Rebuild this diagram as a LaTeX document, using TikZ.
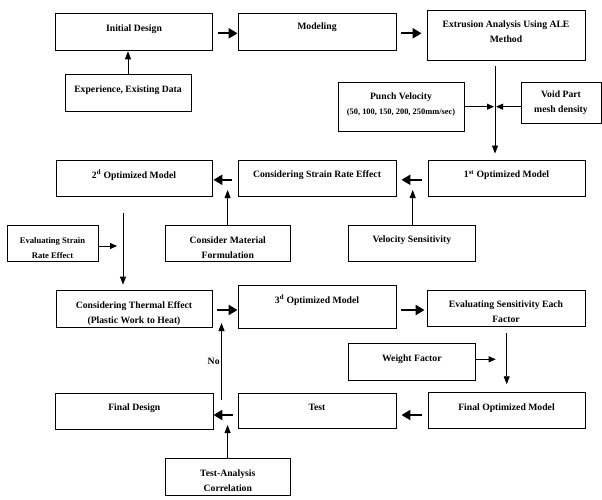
\documentclass[tikz,border=0pt]{standalone}
\usepackage{fontspec}
\setmainfont{Liberation Serif}
\usepackage{tikz}
\usetikzlibrary{arrows.meta}

\begin{document}
\begin{tikzpicture}[x=1pt,y=-1pt,
box/.style={draw,line width=0.9pt,align=center,inner sep=0pt,font=\fontsize{9.7}{15}\selectfont\bfseries},
oneline/.style={text height=7pt,text depth=8pt},
lowtwo/.style={text height=32pt,text depth=2.5pt},
hightwo/.style={text height=22pt,text depth=7.5pt},
fat/.style={line width=2.2pt,-{Triangle[length=9pt,width=10pt]}},
thin/.style={line width=0.8pt,-{Triangle[length=8pt,width=6pt]}},
side/.style={line width=0.8pt,-{Triangle[length=7pt,width=6pt]}}]
\useasboundingbox (0,0) rectangle (602,499);
\node[box,oneline,minimum width=157,minimum height=37] (init) at (134,32.3) {Initial Design};
\node[box,text height=7pt,text depth=12pt,minimum width=158,minimum height=37] (model) at (317,32.3) {Modeling};
\node[box,hightwo,minimum width=158,minimum height=50] (extr) at (506,35) {Extrusion Analysis Using ALE\\Method};
\node[box,oneline,minimum width=126,minimum height=37] (exper) at (128,93.3) {Experience, Existing Data};
\node[box,hightwo,minimum width=126,minimum height=49] (punch) at (401,107.3) {Punch Velocity\\{\fontsize{8.4}{10}\selectfont (50, 100, 150, 200, 250mm/sec)}};
\node[box,minimum width=80,minimum height=40.6] (void) at (561,103) {Void Part\\mesh density};
\node[box,oneline,minimum width=157,minimum height=36.7] (opt1) at (506.5,178.3) {1\textsuperscript{st} Optimized Model};
\node[box,oneline,minimum width=158,minimum height=36.7] (csr) at (317,178.3) {Considering Strain Rate Effect};
\node[box,oneline,minimum width=156,minimum height=36] (opt2) at (134,178.7) {2\textsuperscript{d} Optimized Model};
\node[box,lowtwo,font=\fontsize{8.6}{15}\selectfont\bfseries,minimum width=91,minimum height=36.7] (evstrain) at (52.5,243.3) {Evaluating Strain\\Rate Effect};
\node[box,lowtwo,minimum width=125.6,minimum height=36.7] (matl) at (227.8,243.3) {Consider Material\\Formulation};
\node[box,oneline,minimum width=126.4,minimum height=36.7] (velsens) at (411.8,243.3) {Velocity Sensitivity};
\node[box,lowtwo,minimum width=156,minimum height=37.3] (thermal) at (134,308.7) {Considering Thermal Effect\\(Plastic Work to Heat)};
\node[box,text height=7pt,text depth=14pt,minimum width=158,minimum height=42.3] (opt3) at (317,307) {3\textsuperscript{d} Optimized Model};
\node[box,lowtwo,minimum width=158,minimum height=36] (evsens) at (506,308) {Evaluating Sensitivity Each\\Factor};
\node[box,oneline,minimum width=126.4,minimum height=36.7] (weight) at (411.8,361.7) {Weight Factor};
\node[box,oneline,minimum width=157.3,minimum height=36] (findes) at (134.3,411.3) {Final Design};
\node[box,oneline,minimum width=158,minimum height=35] (test) at (317,410.8) {Test};
\node[box,oneline,minimum width=157,minimum height=35.6] (finopt) at (506.5,410.5) {Final Optimized Model};
\node[box,lowtwo,minimum width=125.6,minimum height=36.7] (testan) at (227.8,476.7) {Test-Analysis\\Correlation};
\coordinate (jn) at (495,106.7);
\coordinate (sj) at (123,246);
\coordinate (mj) at (227.6,190);
\coordinate (vj) at (412.7,190);
\coordinate (wj) at (506.7,359.3);
\coordinate (nb) at (221.5,400);
\coordinate (nt) at (221.5,323);
\coordinate (tj) at (227.6,425);
\draw[fat,shorten <=5pt] ([yshift=-1pt]init.east) -- ([yshift=-1pt]model.west);
\draw[fat,shorten <=5pt,shorten >=5pt] ([yshift=-1pt]model.east) -- ([yshift=-1pt]model.east -| extr.west);
\draw[thin] (exper.north) -- (exper.north |- init.south);
\draw[thin,shorten <=6pt,shorten >=6pt] (jn |- extr.south) -- (jn |- opt1.north);
\draw[side,shorten >=1pt] (punch.east |- jn) -- (jn);
\draw[side,shorten >=1pt] (void.west |- jn) -- (jn);
\draw[fat,shorten <=6pt,shorten >=5pt] ([yshift=-1.5pt]opt1.west) -- ([yshift=-1.5pt]csr.east);
\draw[fat,shorten <=6pt,shorten >=1pt] ([yshift=-1.5pt]csr.west) -- ([yshift=-1.5pt]csr.west -| opt2.east);
\draw[thin] (mj |- matl.north) -- (mj);
\draw[thin] (vj |- velsens.north) -- (vj);
\draw[thin,shorten <=16pt,shorten >=5pt] (sj |- opt2.south) -- (sj |- thermal.north);
\draw[side,shorten >=6pt] (evstrain.east |- sj) -- (sj);
\draw[fat,shorten <=5pt] ([yshift=-1.3pt]thermal.east) -- ([yshift=-1.3pt]thermal.east -| opt3.west);
\draw[fat,shorten <=5pt,shorten >=2pt] ([yshift=-2pt]opt3.east |- evsens) -- ([yshift=-2pt]evsens.west);
\draw[thin,shorten <=7pt,shorten >=8pt] (wj |- evsens.south) -- (wj |- finopt.north);
\draw[side,shorten >=11pt] (weight.east |- wj) -- (wj);
\draw[fat,shorten <=6pt,shorten >=5pt] ([yshift=-4.5pt]finopt.west) -- ([yshift=-4.5pt]finopt.west -| test.east);
\draw[fat,shorten <=5pt] ([yshift=-4.2pt]test.west) -- ([yshift=-4.2pt]test.west -| findes.east);
\draw[thin] (nb) -- node[left,inner sep=1.5pt,font=\fontsize{9.7}{12}\selectfont\bfseries]{No} (nt);
\draw[thin] (tj |- testan.north) -- (tj);
\end{tikzpicture}
\end{document}
